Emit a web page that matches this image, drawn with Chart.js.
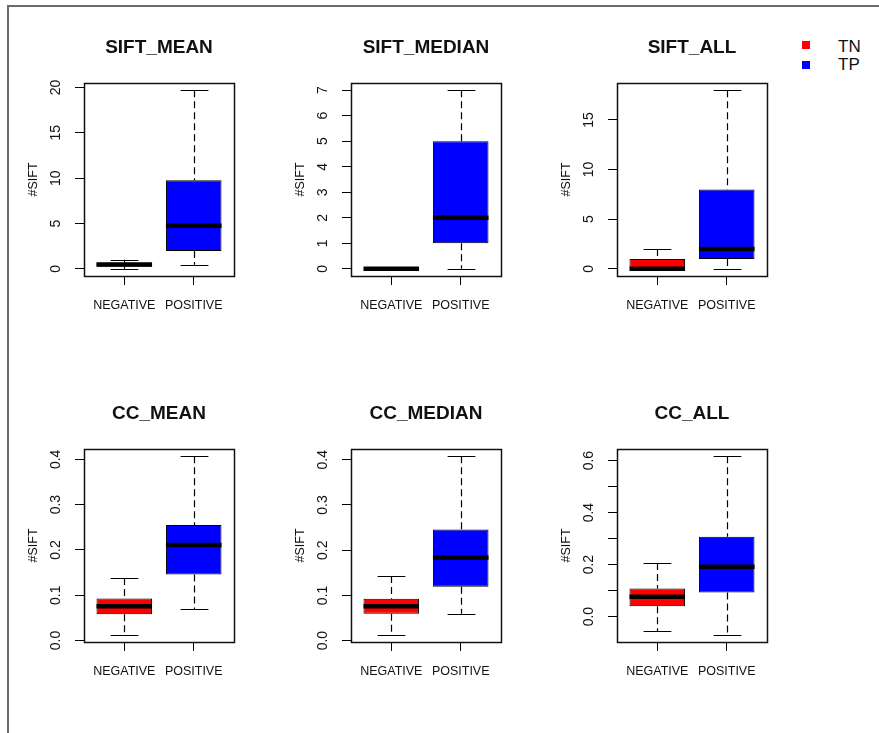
<!DOCTYPE html>
<html>
<head>
<meta charset="utf-8">
<script src="https://cdn.jsdelivr.net/npm/chart.js@4.4.1/dist/chart.umd.min.js"></script>
<style>
  body { margin: 0; background: #fff; width: 879px; height: 733px; position: relative; overflow: hidden;
         font-family: 'Liberation Sans', Arial, sans-serif; }
  #frame { position: absolute; left: 7px; top: 5px; width: 900px; height: 760px;
           border-top: 2px solid #6b6b6b; border-left: 2px solid #6b6b6b; }
  canvas.panel { position: absolute; }
  .key { position: absolute; width: 8px; height: 8px; }
  .keytxt { position: absolute; font-size: 17px; line-height: 20px; color: #111; }
</style>
</head>
<body>
<div id="frame"></div>
<div class="key" style="left:802px; top:41px; background:#ff0000"></div>
<div class="keytxt" style="left:838px; top:37px">TN</div>
<div class="key" style="left:802px; top:61px; background:#0000ff"></div>
<div class="keytxt" style="left:838px; top:55px">TP</div>
<script>
const panelTitles = ['SIFT_MEAN', 'SIFT_MEDIAN', 'SIFT_ALL', 'CC_MEAN', 'CC_MEDIAN', 'CC_ALL'];
const categories = ['NEGATIVE', 'POSITIVE'];
const seriesNames = ['TN', 'TP'];
const seriesColors = ['#ff0000', '#0000ff'];
const yAxisTitle = '#SIFT';

// lower whisker, Q1, median, Q3, upper whisker
const tnStats = [
  [0, 0.22, 0.49, 0.67, 1.0],
  [0, 0, 0, 0, 0],
  [0, 0, 0, 1, 2],
  [0.0126, 0.058, 0.0756, 0.093, 0.138],
  [0.0128, 0.0597, 0.076, 0.0925, 0.143],
  [-0.057, 0.040, 0.076, 0.1085, 0.2066]
];
const tpStats = [
  [0.45, 1.97, 4.75, 9.77, 19.7],
  [0, 1, 2, 5, 7],
  [0, 1, 2, 8, 18],
  [0.069, 0.146, 0.211, 0.255, 0.407],
  [0.0597, 0.119, 0.1836, 0.2456, 0.408],
  [-0.070, 0.093, 0.192, 0.307, 0.617]
];

const yTicks = [
  [0, 5, 10, 15, 20],
  [0, 1, 2, 3, 4, 5, 6, 7],
  [0, 5, 10, 15],
  [0, 0.1, 0.2, 0.3, 0.4],
  [0, 0.1, 0.2, 0.3, 0.4],
  [0, 0.1, 0.2, 0.3, 0.4, 0.5, 0.6]
];
const yTickLabels = [
  ['0', '5', '10', '15', '20'],
  ['0', '1', '2', '3', '4', '5', '6', '7'],
  ['0', '5', '10', '15'],
  ['0.0', '0.1', '0.2', '0.3', '0.4'],
  ['0.0', '0.1', '0.2', '0.3', '0.4'],
  ['0.0', '', '0.2', '', '0.4', '', '0.6']
];

const FAMILY = "'Liberation Sans', Arial, sans-serif";
const TICK_SIZE = 14;
const panelLeft = [8, 275, 541];
const panelTop = [0, 366];

const measure = document.createElement('canvas').getContext('2d');
measure.font = TICK_SIZE + 'px ' + FAMILY;

// whiskers, staples and medians
const boxplotMarks = {
  id: 'boxplotMarks',
  afterDatasetsDraw(chart, args, opts) {
    const ctx = chart.ctx;
    const ys = chart.scales.y;
    ctx.save();
    ctx.strokeStyle = '#000';
    chart.data.datasets.forEach((ds, k) => {
      const s = opts.stats[k];
      const el = chart.getDatasetMeta(k).data[0];
      const x = Math.round(el.x) + 0.5;
      const half = el.width / 2;
      ctx.lineWidth = 1.2;
      ctx.setLineDash([7, 4]);
      ctx.beginPath();
      ctx.moveTo(x, ys.getPixelForValue(s[4]));
      ctx.lineTo(x, ys.getPixelForValue(s[3]));
      ctx.moveTo(x, ys.getPixelForValue(s[1]));
      ctx.lineTo(x, ys.getPixelForValue(s[0]));
      ctx.stroke();
      ctx.setLineDash([]);
      ctx.beginPath();
      [s[0], s[4]].forEach(v => {
        const py = Math.round(ys.getPixelForValue(v)) + 0.5;
        ctx.moveTo(x - half / 2, py);
        ctx.lineTo(x + half / 2, py);
      });
      ctx.stroke();
      ctx.lineWidth = 4.5;
      ctx.beginPath();
      const my = ys.getPixelForValue(s[2]);
      ctx.moveTo(el.x - half, my);
      ctx.lineTo(el.x + half, my);
      ctx.stroke();
    });
    ctx.restore();
  }
};

const plotFrame = {
  id: 'plotFrame',
  afterDraw(chart) {
    const a = chart.chartArea;
    const ctx = chart.ctx;
    ctx.save();
    ctx.strokeStyle = '#111';
    ctx.lineWidth = 1.5;
    ctx.strokeRect(Math.round(a.left) + 0.5, Math.round(a.top) + 0.5,
      Math.round(a.right - a.left), Math.round(a.bottom - a.top));
    ctx.restore();
  }
};

panelTitles.forEach((title, i) => {
  const canvas = document.createElement('canvas');
  canvas.className = 'panel';
  canvas.width = 266;
  canvas.height = 366;
  canvas.style.left = panelLeft[i % 3] + 'px';
  canvas.style.top = panelTop[Math.floor(i / 3)] + 'px';
  document.body.appendChild(canvas);

  const stats = [tnStats[i], tpStats[i]];
  const lo = Math.min(tnStats[i][0], tpStats[i][0]);
  const hi = Math.max(tnStats[i][4], tpStats[i][4]);
  const ext = (hi - lo) * 0.04;
  const widest = Math.max(...yTickLabels[i].map(t => measure.measureText(t).width));

  new Chart(canvas.getContext('2d'), {
    type: 'bar',
    data: {
      datasets: seriesNames.map((name, k) => ({
        label: name,
        data: [{ x: k + 1, y: [stats[k][1], stats[k][3]] }],
        backgroundColor: seriesColors[k],
        borderColor: '#000',
        borderWidth: 1,
        borderSkipped: false,
        grouped: false,
        categoryPercentage: 0.8,
        barPercentage: 1
      }))
    },
    options: {
      responsive: false,
      animation: false,
      devicePixelRatio: 1,
      layout: { padding: { left: 0, right: 40, top: 0, bottom: 0 } },
      plugins: {
        legend: { display: false },
        tooltip: { enabled: false },
        title: {
          display: true,
          fullSize: false,
          text: title,
          color: '#111',
          font: { family: FAMILY, size: 19, weight: 'bold' },
          padding: { top: 36.5, bottom: 23.7 }
        },
        boxplotMarks: { stats: stats }
      },
      scales: {
        x: {
          type: 'linear',
          offset: false,
          min: 0.42,
          max: 2.58,
          afterBuildTicks: s => { s.ticks = categories.map((c, k) => ({ value: k + 1 })); },
          afterFit: s => { s.height = 90; },
          grid: { display: true, offset: false, drawOnChartArea: false, drawTicks: true, tickLength: 9, color: '#000' },
          border: { display: false },
          ticks: {
            autoSkip: false, maxRotation: 0, padding: 13, color: '#111',
            font: { family: FAMILY, size: 12.5 },
            callback: (v, idx) => categories[idx]
          }
        },
        y: {
          min: lo - ext,
          max: hi + ext,
          afterBuildTicks: s => { s.ticks = yTicks[i].map(v => ({ value: v })); },
          afterFit: s => { s.width = 76; },
          grid: { display: true, drawOnChartArea: false, drawTicks: true, tickLength: 9, color: '#000' },
          border: { display: false },
          ticks: {
            autoSkip: false, minRotation: 90, maxRotation: 90, crossAlign: 'center',
            padding: 19 - widest / 2, color: '#111',
            font: { family: FAMILY, size: TICK_SIZE },
            callback: (v, idx) => yTickLabels[i][idx]
          },
          title: {
            display: true,
            text: yAxisTitle,
            color: '#111',
            font: { family: FAMILY, size: 12.5 },
            padding: { top: 18.5, bottom: 0 }
          }
        }
      }
    },
    plugins: [boxplotMarks, plotFrame]
  });
});
</script>
</body>
</html>
